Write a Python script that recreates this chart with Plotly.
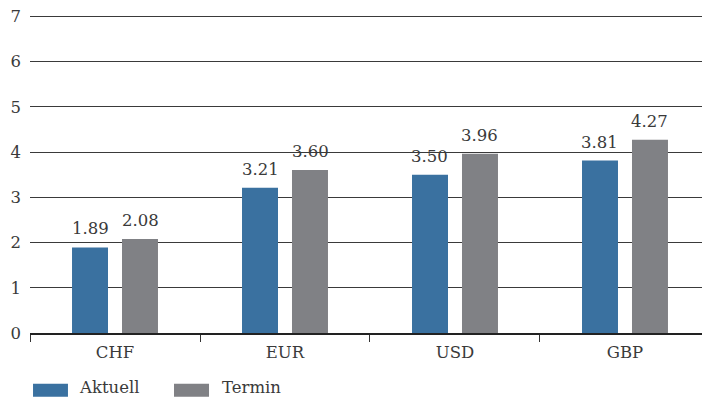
import plotly.graph_objects as go

categories = ["CHF", "EUR", "USD", "GBP"]
aktuell = [1.89, 3.21, 3.50, 3.81]
termin = [2.08, 3.60, 3.96, 4.27]
series_names = ["Aktuell", "Termin"]
y_ticks = [0, 1, 2, 3, 4, 5, 6, 7]

BLUE = "#3a71a0"
GRAY = "#808185"
TXT = "#3a3a3a"
FONT = "DejaVu Serif"
FS = 16.5

fig = go.Figure()
fig.add_trace(go.Bar(x=categories, y=aktuell, name=series_names[0], marker_color=BLUE,
                     marker_line_width=0, showlegend=False))
fig.add_trace(go.Bar(x=categories, y=termin, name=series_names[1], marker_color=GRAY,
                     marker_line_width=0, showlegend=False))

# value labels
for vals, shift in ((aktuell, -25), (termin, 25)):
    for c, v in zip(categories, vals):
        fig.add_annotation(x=c, y=v, text=f"{v:.2f}", showarrow=False, xshift=shift,
                           yanchor="bottom", yshift=7,
                           font=dict(family=FONT, size=FS, color=TXT))

# custom legend (paper coordinates below the plot)
legend_items = [(series_names[0], BLUE, 0.0045, 0.0565, 0.0699),
                (series_names[1], GRAY, 0.2143, 0.2664, 0.2823)]
for name, col, x0, x1, tx in legend_items:
    fig.add_shape(type="rect", xref="paper", yref="paper", x0=x0, x1=x1,
                  y0=-0.1995, y1=-0.1588, fillcolor=col, line_width=0)
    fig.add_annotation(xref="paper", yref="paper", x=tx, y=-0.2069, text=name,
                       showarrow=False, xanchor="left", yanchor="bottom",
                       font=dict(family=FONT, size=FS, color=TXT))

fig.update_layout(
    width=702, height=399,
    margin=dict(l=30, r=0, t=14, b=66),
    paper_bgcolor="white", plot_bgcolor="white",
    barmode="group", bargap=0.412, bargroupgap=0.28,
    font=dict(family=FONT, size=FS, color=TXT),
    showlegend=False,
)
fig.update_xaxes(type="category", range=[-0.5, 3.453], tickson="boundaries",
                 ticks="outside", ticklen=7, tickcolor="#333", tickwidth=1,
                 ticklabelstandoff=3,
                 showline=True, linecolor="#222", linewidth=1.5,
                 showgrid=False, tickfont=dict(family=FONT, size=FS, color=TXT))
fig.update_yaxes(range=[0, 7.05], tickvals=y_ticks, showgrid=True, gridcolor="#3a3a3a",
                 gridwidth=1, zeroline=False, showline=False, ticks="",
                 ticklabelstandoff=8, tickfont=dict(family=FONT, size=FS, color=TXT))

fig.write_html("out.html")
